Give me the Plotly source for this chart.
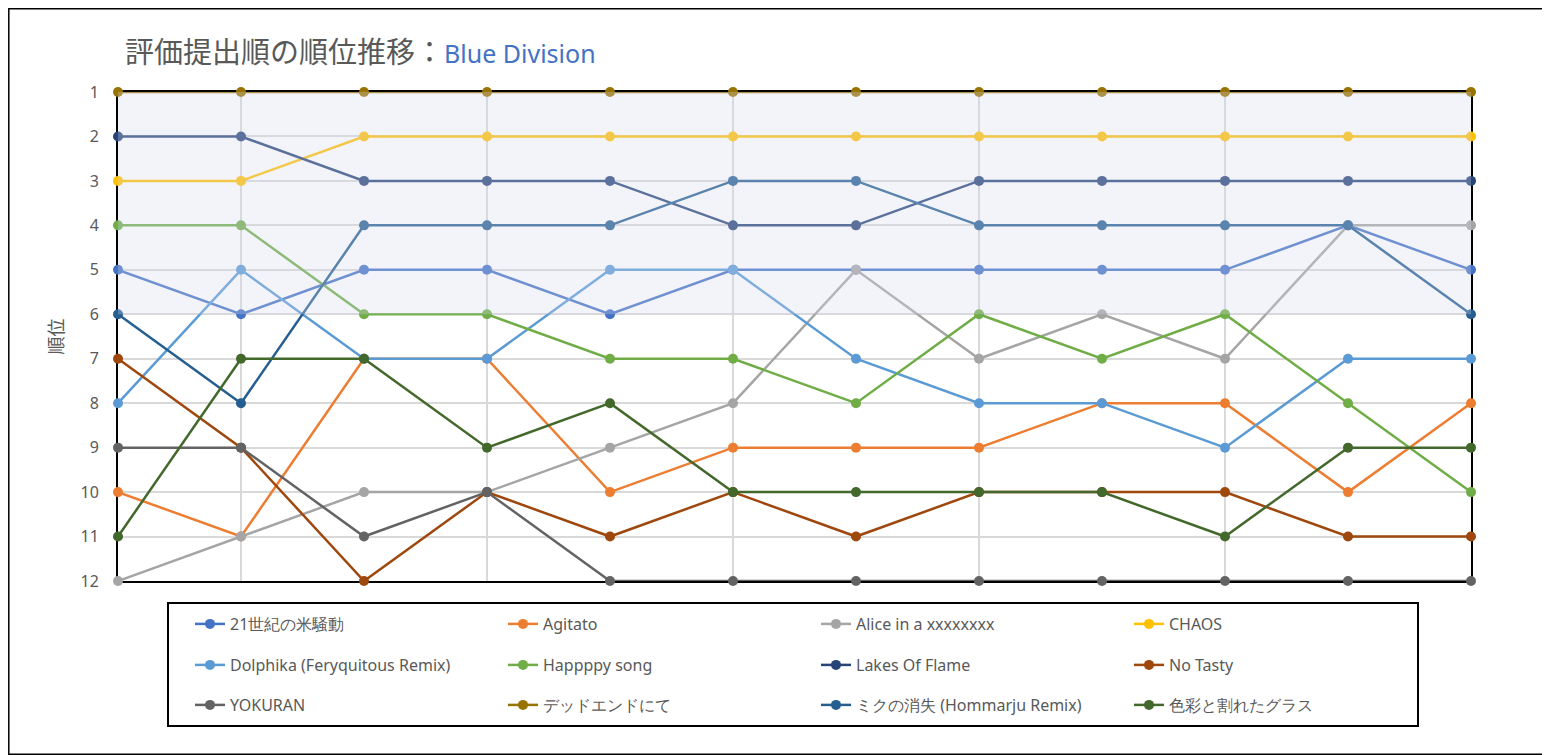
import plotly.graph_objects as go

# 評価提出順 (12 steps), rank of each song at each step
steps = list(range(1, 13))

songs = [
    "21世紀の米騒動", "Agitato", "Alice in a xxxxxxxx", "CHAOS",
    "Dolphika (Feryquitous Remix)", "Happppy song", "Lakes Of Flame", "No Tasty",
    "YOKURAN", "デッドエンドにて", "ミクの消失 (Hommarju Remix)", "色彩と割れたグラス",
]

rank_21c = [5, 6, 5, 5, 6, 5, 5, 5, 5, 5, 4, 5]
rank_agitato = [10, 11, 7, 7, 10, 9, 9, 9, 8, 8, 10, 8]
rank_alice = [12, 11, 10, 10, 9, 8, 5, 7, 6, 7, 4, 4]
rank_chaos = [3, 3, 2, 2, 2, 2, 2, 2, 2, 2, 2, 2]
rank_dolphika = [8, 5, 7, 7, 5, 5, 7, 8, 8, 9, 7, 7]
rank_happppy = [4, 4, 6, 6, 7, 7, 8, 6, 7, 6, 8, 10]
rank_lakes = [2, 2, 3, 3, 3, 4, 4, 3, 3, 3, 3, 3]
rank_notasty = [7, 9, 12, 10, 11, 10, 11, 10, 10, 10, 11, 11]
rank_yokuran = [9, 9, 11, 10, 12, 12, 12, 12, 12, 12, 12, 12]
rank_deadend = [1, 1, 1, 1, 1, 1, 1, 1, 1, 1, 1, 1]
rank_miku = [6, 8, 4, 4, 4, 3, 3, 4, 4, 4, 4, 6]
rank_shikisai = [11, 7, 7, 9, 8, 10, 10, 10, 10, 11, 9, 9]

ranks = [
    rank_21c, rank_agitato, rank_alice, rank_chaos,
    rank_dolphika, rank_happppy, rank_lakes, rank_notasty,
    rank_yokuran, rank_deadend, rank_miku, rank_shikisai,
]

colors = [
    "#4472C4", "#ED7D31", "#A5A5A5", "#FFC000",
    "#5B9BD5", "#70AD47", "#264478", "#9E480E",
    "#636363", "#997300", "#255E91", "#43682B",
]

# the page body adds an 8px offset, so the figure is a bit smaller than the window
OFF = 8
W, H = 1550 - OFF, 755 - OFF
ML, MT = 118 - OFF, 92 - OFF
PW, PH = 1353, 489
MR, MB = W - ML - PW, H - MT - PH


def px_x(sx):
    # screen x -> paper x
    return (sx - OFF - ML) / PW


def px_y(sy):
    # screen y -> paper y
    return (MT + PH - (sy - OFF)) / PH


LATIN = "Noto Sans, Liberation Sans, sans-serif"
CJK = "Noto Sans CJK JP, Noto Sans, sans-serif"

fig = go.Figure()
legend_names = ["legend", "legend2", "legend3"]
for i, (name, r, c) in enumerate(zip(songs, ranks, colors)):
    fig.add_trace(go.Scatter(
        x=steps, y=r, name=name, mode="lines+markers",
        line=dict(color=c, width=2.5),
        marker=dict(color=c, size=10),
        cliponaxis=False,
        legend=legend_names[i // 4],
    ))

# top-6 band
fig.add_shape(type="rect", xref="x", yref="y", x0=1, x1=12, y0=1, y1=6,
              fillcolor="rgba(215,220,240,0.3)", line_width=0, layer="above")
# legend frame
fig.add_shape(type="rect", xref="paper", yref="paper",
              x0=px_x(168), x1=px_x(1418), y0=px_y(603), y1=px_y(726),
              line=dict(color="black", width=2), fillcolor="rgba(0,0,0,0)")
# outer frame
fig.add_shape(type="rect", xref="paper", yref="paper",
              x0=-ML / PW + 0.8 / PW, x1=(PW + MR - 0.8) / PW,
              y0=-MB / PH + 0.8 / PH, y1=(PH + MT - 0.8) / PH,
              line=dict(color="black", width=1.5), fillcolor="rgba(0,0,0,0)")

leg = dict(orientation="h", xanchor="left", yanchor="middle",
           x=px_x(190), entrywidth=268, entrywidthmode="pixels",
           bgcolor="rgba(0,0,0,0)", font=dict(family=LATIN, size=16, color="#595959"),
           itemclick=False, itemdoubleclick=False)

fig.update_layout(
    width=W, height=H,
    margin=dict(l=ML, r=MR, t=MT, b=MB),
    paper_bgcolor="white", plot_bgcolor="white",
    font=dict(family=CJK, color="#595959"),
    title=dict(
        text="評価提出順の順位推移：<span style='color:#4472C4;font-family:Noto Sans;font-size:25px'>Blue Division</span>",
        font=dict(family=CJK, size=29, color="#595959"),
        x=(125 - OFF) / W, xref="container", xanchor="left",
        y=1 - (53 - OFF) / H, yref="container", yanchor="middle",
    ),
    legend=dict(leg, y=px_y(624)),
    legend2=dict(leg, y=px_y(665)),
    legend3=dict(leg, y=px_y(705)),
    showlegend=True,
)

fig.update_xaxes(range=[1, 12], showticklabels=False, ticks="",
                 showgrid=True, gridcolor="#D9D9D9", gridwidth=1.5,
                 zeroline=False, showline=True, mirror=True,
                 linecolor="black", linewidth=2, layer="below traces")
fig.update_yaxes(range=[12, 1], tickvals=steps, ticks="", ticklabelstandoff=14,
                 tickfont=dict(family=LATIN, size=16, color="#595959"),
                 showgrid=True, gridcolor="#D9D9D9", gridwidth=1.5,
                 zeroline=False, showline=True, mirror=True,
                 linecolor="black", linewidth=2, layer="below traces",
                 title=dict(text="順位", font=dict(family=CJK, size=18, color="#595959"),
                            standoff=12))

fig.write_html("out.html")
